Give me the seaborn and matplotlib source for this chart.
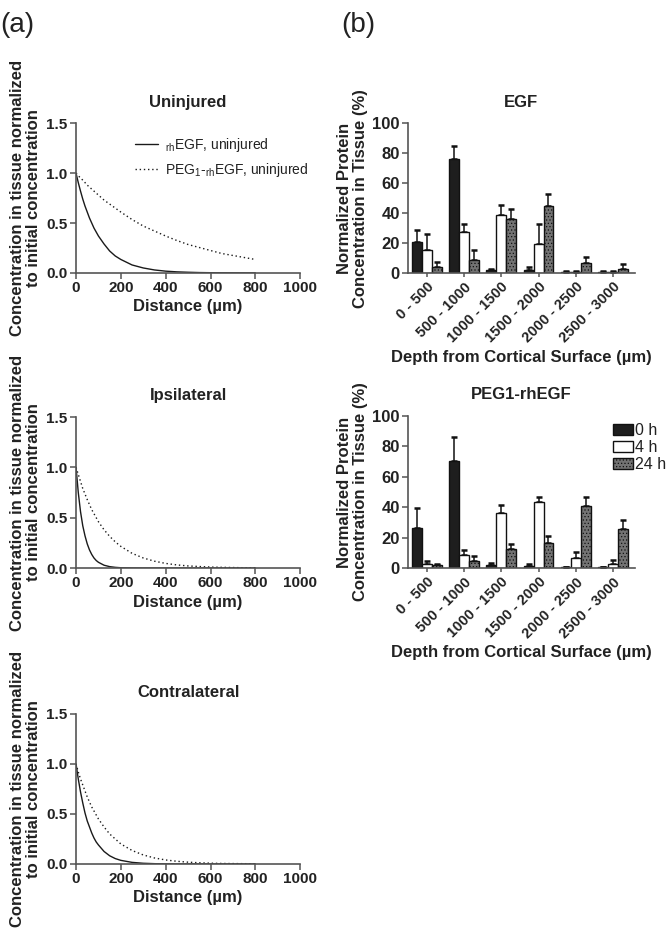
import numpy as np
import pandas as pd
import seaborn as sns
import matplotlib.pyplot as plt
from matplotlib.patches import Patch
from matplotlib.lines import Line2D

# ---- curve data ----
distance = [0, 10, 20, 30, 40, 50, 60, 70, 80, 90, 100, 125, 150, 175, 200,
            250, 300, 350, 400, 450, 500, 550, 600, 650, 700, 750, 800]

uninj_rh = [1.0, 0.905, 0.82, 0.74, 0.67, 0.61, 0.55, 0.50, 0.45, 0.41, 0.37, 0.29, 0.22, 0.17, 0.135,
            0.08, 0.05, 0.03, 0.018, 0.011, 0.007, 0.004, 0.0025, 0.0015, 0.001, 0.0005, 0.0003]
uninj_peg = [1.0, 0.975, 0.95, 0.93, 0.905, 0.88, 0.86, 0.84, 0.82, 0.80, 0.78, 0.73, 0.69, 0.65, 0.61,
             0.535, 0.47, 0.42, 0.37, 0.325, 0.285, 0.255, 0.225, 0.195, 0.175, 0.155, 0.135]
ipsi_rh = [1.0, 0.75, 0.56, 0.42, 0.32, 0.24, 0.18, 0.135, 0.10, 0.075, 0.057, 0.028, 0.014, 0.007, 0.003,
           0.001, 0.0, 0.0, 0.0, 0.0, 0.0, 0.0, 0.0, 0.0, 0.0, 0.0, 0.0]
ipsi_peg = [1.0, 0.93, 0.86, 0.79, 0.735, 0.68, 0.63, 0.58, 0.54, 0.50, 0.46, 0.38, 0.315, 0.26, 0.215,
            0.146, 0.10, 0.068, 0.046, 0.031, 0.021, 0.015, 0.01, 0.007, 0.005, 0.003, 0.002]
contra_rh = [1.0, 0.85, 0.72, 0.61, 0.51, 0.43, 0.37, 0.31, 0.26, 0.22, 0.19, 0.125, 0.082, 0.054, 0.036,
             0.016, 0.007, 0.003, 0.001, 0.0, 0.0, 0.0, 0.0, 0.0, 0.0, 0.0, 0.0]
contra_peg = [1.0, 0.92, 0.85, 0.79, 0.73, 0.67, 0.62, 0.57, 0.53, 0.49, 0.45, 0.37, 0.30, 0.25, 0.20,
              0.135, 0.09, 0.06, 0.04, 0.027, 0.018, 0.012, 0.008, 0.005, 0.004, 0.003, 0.002]

# ---- bar data (mean, SEM upper) ----
depths = ['0 - 500', '500 - 1000', '1000 - 1500', '1500 - 2000', '2000 - 2500', '2500 - 3000']
times = ['0 h', '4 h', '24 h']

egf_0h = [20.9, 76.4, 1.8, 2.2, 0.7, 0.7]
egf_4h = [15.3, 27.3, 38.7, 19.6, 0.9, 0.7]
egf_24h = [3.8, 8.9, 36.0, 44.7, 6.9, 2.9]
egf_0h_err = [8.0, 8.6, 1.1, 1.8, 0.6, 0.4]
egf_4h_err = [10.5, 5.1, 6.6, 12.8, 0.4, 0.4]
egf_24h_err = [3.3, 6.2, 6.7, 8.2, 3.8, 3.1]

peg_0h = [26.3, 70.7, 1.7, 1.5, 0.5, 0.4]
peg_4h = [2.8, 8.8, 36.1, 43.3, 6.3, 2.6]
peg_24h = [2.0, 4.8, 12.5, 16.6, 40.5, 25.6]
peg_0h_err = [13.5, 15.3, 1.6, 0.9, 0.3, 0.3]
peg_4h_err = [1.6, 3.0, 5.5, 3.3, 4.0, 2.6]
peg_24h_err = [0.8, 2.9, 3.5, 4.6, 6.3, 5.7]

bar_colors = ['#1e1e1e', '#ffffff', '#737373']

sns.set_style('ticks')
plt.rcParams['font.family'] = ['Liberation Sans', 'DejaVu Sans']
plt.rcParams['mathtext.fontset'] = 'custom'
plt.rcParams['mathtext.rm'] = 'Liberation Sans'
plt.rcParams['mathtext.it'] = 'Liberation Sans:italic'
plt.rcParams['hatch.linewidth'] = 0.5
plt.rcParams['hatch.color'] = '#3a3a3a'
txt = '#222222'
spine_c = '#555555'

fig = plt.figure(figsize=(6.67, 9.3), dpi=100)


def style_axes(ax, size):
    sns.despine(ax=ax)
    for s in ['left', 'bottom']:
        ax.spines[s].set_color(spine_c)
        ax.spines[s].set_linewidth(1.2)
    ax.tick_params(axis='both', colors=spine_c, labelcolor=txt, labelsize=size,
                   length=4, width=1.1, direction='out', pad=2)
    for lab in ax.get_xticklabels() + ax.get_yticklabels():
        lab.set_fontweight('bold')


curve_boxes = [(0.114, 0.7065, 0.336, 0.161),
               (0.114, 0.3892, 0.336, 0.1624),
               (0.114, 0.0710, 0.336, 0.1613)]
curve_titles = ['Uninjured', 'Ipsilateral', 'Contralateral']
curve_sets = [(uninj_rh, uninj_peg), (ipsi_rh, ipsi_peg), (contra_rh, contra_peg)]

for i, (box, title, (rh, peg)) in enumerate(zip(curve_boxes, curve_titles, curve_sets)):
    ax = fig.add_axes(box)
    df = pd.DataFrame({'Distance': distance, 'rh': rh, 'peg': peg})
    sns.lineplot(data=df, x='Distance', y='rh', ax=ax, color='#1a1a1a', lw=1.0)
    sns.lineplot(data=df, x='Distance', y='peg', ax=ax, color='#1a1a1a', lw=1.0, linestyle=(0, (1, 2)))
    ax.set_xlim(0, 1000)
    ax.set_ylim(0, 1.5)
    ax.set_xticks([0, 200, 400, 600, 800, 1000])
    ax.set_yticks([0.0, 0.5, 1.0, 1.5])
    ax.set_yticklabels(['0.0', '0.5', '1.0', '1.5'])
    style_axes(ax, 11)
    ax.set_title(title, fontsize=12, fontweight='bold', color=txt, pad=12)
    ax.set_xlabel('Distance (µm)', fontsize=12, fontweight='bold', color=txt, labelpad=3)
    ax.set_ylabel('Concentration in tissue normalized\nto initial concentration',
                  fontsize=12, fontweight='bold', color=txt, labelpad=4, linespacing=1.1)
    if i == 0:
        handles = [Line2D([], [], color='#1a1a1a', lw=1.0),
                   Line2D([], [], color='#1a1a1a', lw=1.0, linestyle=(0, (1, 2)))]
        labels = [r'$_{\rm rh}$EGF, uninjured', r'PEG$_{1}$-$_{\rm rh}$EGF, uninjured']
        ax.legend(handles, labels, loc='upper left', bbox_to_anchor=(0.24, 0.95), frameon=False,
                  fontsize=10, handlelength=1.6, handletextpad=0.5, labelspacing=0.5,
                  borderaxespad=0, labelcolor=txt)

bar_boxes = [(0.6117, 0.7065, 0.340, 0.161), (0.6117, 0.3892, 0.340, 0.1635)]
bar_titles = ['EGF', 'PEG1-rhEGF']
bar_sets = [((egf_0h, egf_4h, egf_24h), (egf_0h_err, egf_4h_err, egf_24h_err)),
            ((peg_0h, peg_4h, peg_24h), (peg_0h_err, peg_4h_err, peg_24h_err))]

for j, (box, title, (means, errs)) in enumerate(zip(bar_boxes, bar_titles, bar_sets)):
    ax = fig.add_axes(box)
    rows = []
    for t, m in zip(times, means):
        for d, v in zip(depths, m):
            rows.append({'depth': d, 'time': t, 'value': v})
    df = pd.DataFrame(rows)
    sns.barplot(data=df, x='depth', y='value', hue='time', order=depths, hue_order=times,
                palette=bar_colors, errorbar=None, width=0.8, edgecolor='#111111',
                linewidth=1.0, legend=False, ax=ax, zorder=2)
    bar_conts = list(ax.containers)
    for k, cont in enumerate(bar_conts):
        xs = [p.get_x() + p.get_width() / 2 for p in cont.patches]
        hs = [p.get_height() for p in cont.patches]
        ax.errorbar(xs, hs, yerr=[np.zeros(len(hs)), errs[k]], fmt='none', ecolor='#111111',
                    elinewidth=1.1, capsize=2.5, capthick=1.8, zorder=1)
        if k == 2:
            for p in cont.patches:
                p.set_hatch('.....')
    ax.set_xlim(-0.5, 5.58)
    ax.set_ylim(0, 100)
    ax.set_yticks([0, 20, 40, 60, 80, 100])
    style_axes(ax, 12)
    ax.tick_params(axis='x', rotation=45, length=3)
    for lab in ax.get_xticklabels():
        lab.set_ha('right')
        lab.set_rotation_mode('anchor')
        lab.set_fontsize(10.5)
    ax.set_title(title, fontsize=12, fontweight='bold', color=txt, pad=12)
    ax.set_xlabel('Depth from Cortical Surface (µm)', fontsize=12, fontweight='bold', color=txt, labelpad=3)
    ax.set_ylabel('Normalized Protein\nConcentration in Tissue (%)', fontsize=12,
                  fontweight='bold', color=txt, labelpad=3, linespacing=1.05)
    if j == 1:
        handles = [Patch(facecolor=bar_colors[0], edgecolor='#111111'),
                   Patch(facecolor=bar_colors[1], edgecolor='#111111'),
                   Patch(facecolor=bar_colors[2], edgecolor='#111111', hatch='.....')]
        ax.legend(handles, times, loc='upper left', bbox_to_anchor=(0.875, 0.995), frameon=False,
                  fontsize=11.5, handlelength=1.25, handleheight=0.75, handletextpad=0.15,
                  labelspacing=0.12, borderaxespad=0, labelcolor=txt)

fig.text(0.0, 0.973, '(a)', fontsize=20, color=txt, va='center', ha='left')
fig.text(0.512, 0.973, '(b)', fontsize=20, color=txt, va='center', ha='left')

fig.savefig('out.png', dpi=100)
